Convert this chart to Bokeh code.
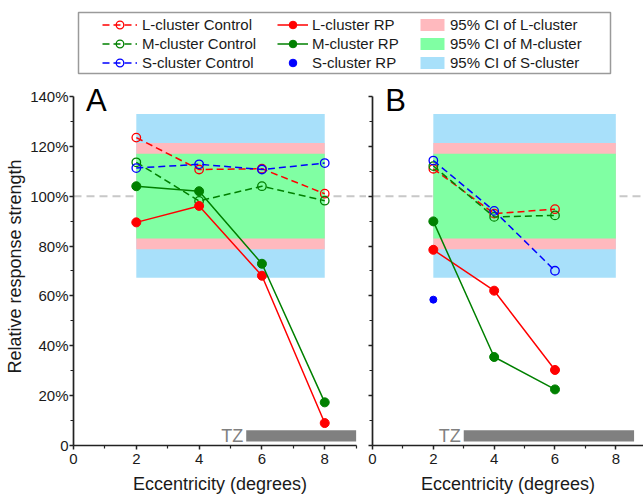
from bokeh.plotting import figure
from bokeh.models import (Range1d, FixedTicker, Span, Legend, LegendItem, Label,
                          CustomLabelingPolicy)
from bokeh.layouts import column, row
from bokeh.embed import file_html
from bokeh.resources import INLINE
from bokeh.core.properties import value

# ---------------- data ----------------
ecc_A = [2, 4, 6, 8]
A_L_ctrl = [123.5, 110.7, 111.0, 101.0]
A_M_ctrl = [113.6, 98.1, 104.0, 98.2]
A_S_ctrl = [111.3, 112.8, 110.7, 113.3]
A_L_rp = [89.5, 96.1, 68.1, 9.0]
A_M_rp = [104.0, 102.0, 72.9, 17.3]

ecc_B = [2, 4, 6]
B_L_ctrl = [111.0, 93.0, 94.8]
B_M_ctrl = [112.1, 91.7, 92.3]
B_S_ctrl = [114.3, 94.1, 70.1]
B_L_rp = [78.5, 62.1, 30.3]
B_M_rp = [89.9, 35.5, 22.5]
B_S_rp_x = [2]
B_S_rp = [58.5]

ci_x = [2, 8]
ci_L = [78.7, 121.3]
ci_M = [83.0, 117.0]
ci_S = [67.3, 133.0]

tz_A = [5.5, 9.0]
tz_B = [3.0, 8.6]
tz_y = [1.6, 6.1]

ref_level = 100

y_ticks = [0, 20, 40, 60, 80, 100, 120, 140]
y_tick_labels = ["0", "20%", "40%", "60%", "80%", "100%", "120%", "140%"]
y_minor = [10, 30, 50, 70, 90, 110, 130]
x_ticks = [0, 2, 4, 6, 8]
x_minor = [1, 3, 5, 7, 9]

legend_ctrl = ["L-cluster Control", "M-cluster Control", "S-cluster Control"]
legend_rp = ["L-cluster RP", "M-cluster RP", "S-cluster RP"]
legend_ci = ["95% CI of L-cluster", "95% CI of M-cluster", "95% CI of S-cluster"]

# ---------------- style ----------------
FONT = "Liberation Sans"
RED = "#ff0000"
GREEN = "#008000"
BLUE = "#0000ff"
BAND_L = "#ffb9be"
BAND_M = "#80ffa3"
BAND_S = "#a8e0fa"
TZ_COL = "#808080"
DASH = "7 4"
TXT = "#1a1a1a"


def make_panel(width, left, right, xmax, xbound, ylabels):
    p = figure(width=width, height=416, x_range=Range1d(0, xmax),
               y_range=Range1d(0, 143.6), output_backend="svg",
               toolbar_location=None, min_border_left=left,
               min_border_right=right, min_border_top=7, min_border_bottom=50)
    p.outline_line_color = None
    p.grid.visible = False
    p.background_fill_color = "white"
    p.border_fill_color = "white"
    for ax in (p.xaxis[0], p.yaxis[0]):
        ax.axis_line_color = "#222222"
        ax.axis_line_width = 1.7
        ax.major_tick_line_color = "#222222"
        ax.major_tick_line_width = 1.5
        ax.minor_tick_line_color = "#222222"
        ax.minor_tick_line_width = 1.2
        ax.major_tick_in = 0
        ax.major_tick_out = 4
        ax.minor_tick_in = 0
        ax.minor_tick_out = 3
        ax.major_label_text_font = FONT
        ax.major_label_text_font_size = "15px"
        ax.major_label_text_color = TXT
        ax.axis_label_text_font = FONT
        ax.axis_label_text_font_size = "18px"
        ax.axis_label_text_font_style = "normal"
        ax.axis_label_text_color = TXT
    p.xaxis.ticker = FixedTicker(ticks=x_ticks, minor_ticks=x_minor)
    p.xaxis.bounds = xbound
    p.xaxis.major_label_standoff = 4
    p.xaxis.axis_label = "Eccentricity (degrees)"
    p.xaxis.axis_label_standoff = 7
    p.yaxis.ticker = FixedTicker(ticks=y_ticks, minor_ticks=y_minor)
    p.yaxis.bounds = (0, 140)
    if ylabels:
        p.yaxis.major_label_overrides = dict(zip(y_ticks, y_tick_labels))
        p.yaxis.major_label_standoff = 1
        p.yaxis.axis_label = "Relative response strength"
        p.yaxis.axis_label_standoff = 2
    else:
        p.yaxis.major_label_text_font_size = "0px"
        p.yaxis.major_label_standoff = 0
        p.yaxis.major_label_policy = CustomLabelingPolicy(
            code="for (const i of Array.from(indices)) { indices.unset(i) }")
    p.add_layout(Span(location=ref_level, dimension="width", line_color="#c8c8c8",
                      line_width=2, line_dash="8 5", level="underlay"))
    return p


def draw_bands(p):
    rs = []
    for lim, col in ((ci_S, BAND_S), (ci_L, BAND_L), (ci_M, BAND_M)):
        rs.append(p.quad(left=[ci_x[0]], right=[ci_x[1]], bottom=[lim[0]], top=[lim[1]],
                         fill_color=col, line_color=None))
    return rs


def draw_ctrl(p, x, y, col):
    ln = p.line(x, y, line_color=col, line_width=1.5, line_dash=DASH)
    sc = p.scatter(x, y, size=8.5, marker="circle", fill_color=None,
                   line_color=col, line_width=1.3)
    return ln, sc


def draw_rp(p, x, y, col):
    ln = p.line(x, y, line_color=col, line_width=1.5)
    sc = p.scatter(x, y, size=9, marker="circle", fill_color=col, line_color=col)
    return ln, sc


def draw_tz(p, tz):
    p.quad(left=[tz[0]], right=[tz[1]], bottom=[tz_y[0]], top=[tz_y[1]],
           fill_color=TZ_COL, line_color=None)
    p.text(x=[tz[0]], y=[(tz_y[0] + tz_y[1]) / 2], text=["TZ"], text_font=value(FONT),
           text_font_size="18px", text_color=TZ_COL, text_align="right",
           text_baseline="middle", x_offset=-3)


# ---------------- panel A ----------------
pA = make_panel(366, 73, 0, 9.33, (0, 9), True)
draw_bands(pA)
draw_ctrl(pA, ecc_A, A_L_ctrl, RED)
draw_ctrl(pA, ecc_A, A_M_ctrl, GREEN)
draw_ctrl(pA, ecc_A, A_S_ctrl, BLUE)
draw_rp(pA, ecc_A, A_L_rp, RED)
draw_rp(pA, ecc_A, A_M_rp, GREEN)
draw_tz(pA, tz_A)
pA.add_layout(Label(x=0.4, y=143.6, y_offset=5, text="A", text_font=FONT,
                    text_font_size="31px", text_baseline="top", text_color="black"))

# ---------------- panel B ----------------
pB = make_panel(277, 6, 0, 8.91, (0, 8.91), False)
draw_bands(pB)
draw_ctrl(pB, ecc_B, B_L_ctrl, RED)
draw_ctrl(pB, ecc_B, B_M_ctrl, GREEN)
draw_ctrl(pB, ecc_B, B_S_ctrl, BLUE)
draw_rp(pB, ecc_B, B_L_rp, RED)
draw_rp(pB, ecc_B, B_M_rp, GREEN)
pB.scatter(B_S_rp_x, B_S_rp, size=7, marker="circle", fill_color=BLUE, line_color=BLUE)
draw_tz(pB, tz_B)
pB.add_layout(Label(x=0.42, y=143.6, y_offset=5, text="B", text_font=FONT,
                    text_font_size="31px", text_baseline="top", text_color="black"))

# ---------------- legend strip ----------------
leg = figure(width=643, height=80, x_range=Range1d(-2, -1), y_range=Range1d(-2, -1),
             output_backend="svg", toolbar_location=None, x_axis_type=None,
             y_axis_type=None, min_border_left=78, min_border_right=33,
             min_border_top=12, min_border_bottom=7)
leg.grid.visible = False
leg.outline_line_color = "#9a9a9a"
leg.outline_line_width = 1.5

ctrl_items = []
for lbl, yv, col in zip(legend_ctrl, (A_L_ctrl, A_M_ctrl, A_S_ctrl), (RED, GREEN, BLUE)):
    ln, sc = draw_ctrl(leg, ecc_A, yv, col)
    ctrl_items.append(LegendItem(label=lbl, renderers=[ln, sc]))

rp_items = []
for lbl, yv, col in zip(legend_rp[:2], (A_L_rp, A_M_rp), (RED, GREEN)):
    ln, sc = draw_rp(leg, ecc_A, yv, col)
    rp_items.append(LegendItem(label=lbl, renderers=[ln, sc]))
s_sc = leg.scatter(B_S_rp_x, B_S_rp, size=7, marker="circle", fill_color=BLUE, line_color=BLUE)
rp_items.append(LegendItem(label=legend_rp[2], renderers=[s_sc]))

band_rs = draw_bands(leg)
ci_items = [LegendItem(label=legend_ci[0], renderers=[band_rs[1]]),
            LegendItem(label=legend_ci[1], renderers=[band_rs[2]]),
            LegendItem(label=legend_ci[2], renderers=[band_rs[0]])]


def make_legend(items, loc, gw, gh, standoff, spacing):
    return Legend(items=items, location=loc, orientation="vertical",
                  border_line_color=None, background_fill_alpha=0, padding=0,
                  margin=0, spacing=spacing, glyph_width=gw, glyph_height=gh,
                  label_height=gh, label_standoff=standoff, label_text_font=FONT,
                  label_text_font_size="15px", label_text_color=TXT)


leg.add_layout(make_legend(ctrl_items, (24, 1), 35, 19, 5, 0))
leg.add_layout(make_legend(rp_items, (199, 1), 31, 19, 4, 0))
leg.add_layout(make_legend(ci_items, (339, 2), 30, 15, 3, 2))

layout = column(leg, row(pA, pB, spacing=0), spacing=0)
open("out.html", "w").write(file_html(layout, INLINE))
